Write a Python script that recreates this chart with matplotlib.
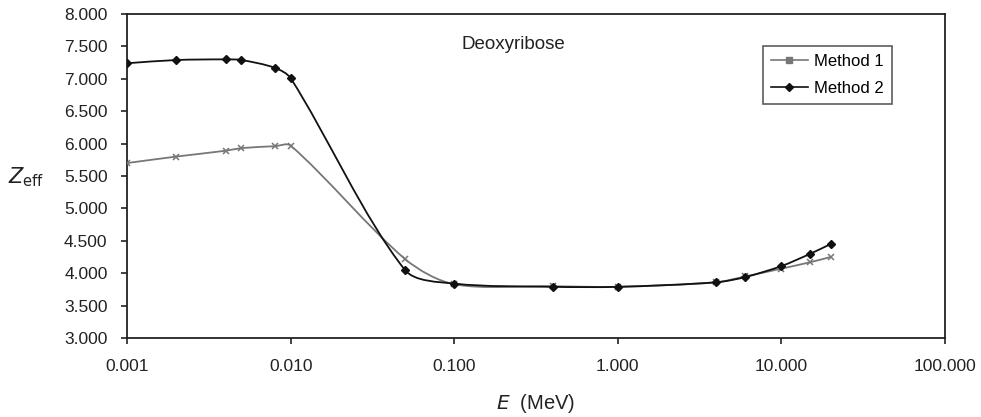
import numpy as np
import matplotlib
matplotlib.use('Agg')
import matplotlib.pyplot as plt
from matplotlib.path import Path
from matplotlib.patches import PathPatch
from matplotlib.lines import Line2D

plt.rcParams['font.family'] = ['Liberation Sans', 'DejaVu Sans']

# energies (MeV) and Zeff
energy = [0.001, 0.002, 0.004, 0.005, 0.008, 0.01, 0.05, 0.1, 0.4, 1.0,
          4.0, 6.0, 10.0, 15.0, 20.0]
zeff_m1 = [5.70, 5.80, 5.89, 5.93, 5.96, 5.97, 4.22, 3.83, 3.80, 3.79,
           3.86, 3.95, 4.07, 4.17, 4.25]
zeff_m2 = [7.24, 7.29, 7.30, 7.29, 7.17, 7.01, 4.05, 3.84, 3.79, 3.79,
           3.86, 3.94, 4.11, 4.30, 4.45]
xticks = [0.001, 0.01, 0.1, 1, 10, 100]
yticks = [3, 3.5, 4, 4.5, 5, 5.5, 6, 6.5, 7, 7.5, 8]


def smooth_path(x, y, sx=163.6, sy=64.8, k=0.3):
    # smoothed line like excel: bezier with tangents from neighbours,
    # handle length tied to the segment length (in screen-ish units)
    px = np.log10(x) * sx
    py = np.asarray(y, float) * sy
    n = len(px)
    tx = np.zeros(n)
    ty = np.zeros(n)
    for i in range(n):
        i0 = max(i - 1, 0)
        i1 = min(i + 1, n - 1)
        dx, dy = px[i1] - px[i0], py[i1] - py[i0]
        d = np.hypot(dx, dy)
        tx[i], ty[i] = dx / d, dy / d
    verts = [(x[0], y[0])]
    codes = [Path.MOVETO]
    for i in range(n - 1):
        L = np.hypot(px[i + 1] - px[i], py[i + 1] - py[i]) * k
        c1 = (px[i] + tx[i] * L, py[i] + ty[i] * L)
        c2 = (px[i + 1] - tx[i + 1] * L, py[i + 1] - ty[i + 1] * L)
        for cx, cy in (c1, c2):
            verts.append((10 ** (cx / sx), cy / sy))
        verts.append((x[i + 1], y[i + 1]))
        codes += [Path.CURVE4] * 3
    return Path(verts, codes)


fig = plt.figure(figsize=(9.81, 4.17), dpi=100)
ax = fig.add_axes([0.1295, 0.1894, 0.8338, 0.777])
ax.set_xscale('log')
ax.set_xlim(0.001, 100)
ax.set_ylim(3, 8)

gray = '#777777'
dark = '#111111'
ax.add_patch(PathPatch(smooth_path(energy, zeff_m1), fill=False,
                       edgecolor=gray, lw=1.3, zorder=2))
ax.plot(energy, zeff_m1, ls='none', marker='x', ms=5, mew=1.1,
        color=gray, zorder=3)
ax.add_patch(PathPatch(smooth_path(energy, zeff_m2), fill=False,
                       edgecolor=dark, lw=1.3, zorder=4))
ax.plot(energy, zeff_m2, ls='none', marker='D', ms=4.3, color=dark, zorder=5)

ax.set_xticks(xticks)
ax.set_xticklabels(['%.3f' % v for v in xticks])
ax.xaxis.set_minor_locator(matplotlib.ticker.NullLocator())
ax.set_yticks(yticks)
ax.set_yticklabels(['%.3f' % v for v in yticks])
ax.tick_params(direction='out', length=4, width=1.2, labelsize=12.5,
               colors='#222222', pad=10)
ax.tick_params(axis='x', pad=11)
for s in ax.spines.values():
    s.set_linewidth(1.3)
    s.set_color('#222222')

ax.text(0.472, 0.907, 'Deoxyribose', transform=ax.transAxes, fontsize=13.5,
        ha='center', va='center', color='#222222')

ax.set_xlabel(r'$E$  (MeV)', fontsize=14.5, color='#222222', labelpad=13)
fig.text(0.008, 0.575, r'$Z_{\mathrm{eff}}$', fontsize=15, ha='left',
         va='center', color='#222222')

handles = [Line2D([], [], color=gray, lw=1.2, marker='s', ms=5),
           Line2D([], [], color=dark, lw=1.2, marker='D', ms=4)]
leg = ax.legend(handles, ['Method 1', 'Method 2'], loc='upper left',
                bbox_to_anchor=(0.767, 0.927), fontsize=12, frameon=True,
                fancybox=False, edgecolor='#333333', handlelength=2.2,
                borderpad=0.5, labelspacing=0.7, handletextpad=0.4)
leg.get_frame().set_linewidth(1.2)

fig.savefig('out.png', dpi=100)
